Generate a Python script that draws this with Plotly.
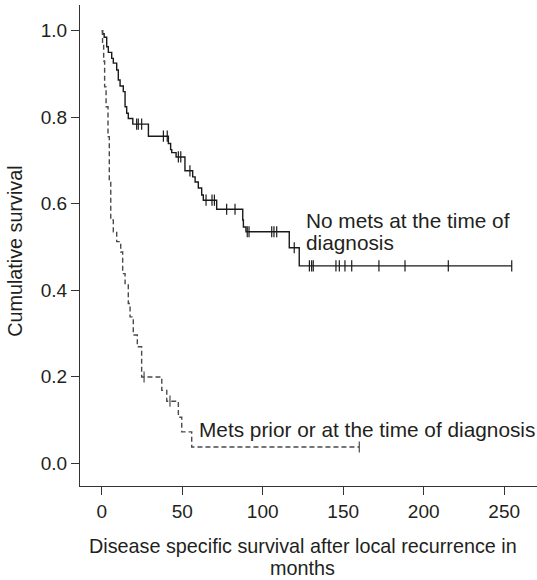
import numpy as np
import plotly.graph_objects as go

# ---- Data (months, cumulative survival) ----
# No mets at time of diagnosis: event times and survival after each drop
no_mets_times = [0.5, 1.5, 3.1, 4.1, 6.2, 7.2, 9.3, 10.3, 11.4, 13.4, 14.5, 15.5, 16.5, 19.3,
                 29.0, 41.4, 42.8, 43.5, 46.2, 51.7, 56.5, 58.0, 60.0, 62.1, 63.1, 71.4,
                 87.6, 88.0, 89.6, 116.5, 122.7]
no_mets_surv = [0.993, 0.985, 0.963, 0.950, 0.936, 0.925, 0.909, 0.886, 0.872, 0.859, 0.824, 0.809,
                0.797, 0.784, 0.756, 0.739, 0.725, 0.718, 0.708, 0.676, 0.662, 0.650, 0.636,
                0.620, 0.608, 0.587, 0.562, 0.546, 0.535, 0.498, 0.456]
no_mets_censored = [21.7, 22.7, 24.8, 38.3, 40.7, 47.6, 49.1, 54.8, 64.8, 68.5, 70.0, 77.6, 82.8,
                    90.4, 91.5, 105.6, 107.0, 108.7, 119.6, 129.0, 130.4, 131.4, 145.5, 147.6,
                    151.1, 155.3, 172.2, 188.4, 215.3, 254.7]

# Mets prior or at time of diagnosis
mets_times = [0.5, 1.2, 1.8, 2.7, 3.9, 4.7, 5.6, 7.2, 9.3, 11.8, 13.0, 14.5, 16.5, 17.6, 19.6,
              22.1, 24.8, 37.3, 40.4, 47.6, 49.7, 55.9]
mets_surv = [0.97, 0.93, 0.87, 0.824, 0.755, 0.654, 0.562, 0.535, 0.512, 0.488, 0.438, 0.415,
             0.369, 0.338, 0.296, 0.269, 0.199, 0.168, 0.143, 0.106, 0.072, 0.037]
mets_censored = [26.3, 42.4, 160.0]

x_ticks = [0, 50, 100, 150, 200, 250]
y_ticks = [0.0, 0.2, 0.4, 0.6, 0.8, 1.0]

FONT = "Liberation Sans, Arial, sans-serif"
TXT = "#231f20"


def step_xy(times, surv, end):
    x = [0.0] + list(times) + [end]
    y = [1.0] + list(surv) + [surv[-1]]
    return x, y


def surv_at(times, surv, t):
    s = 1.0
    for ti, si in zip(times, surv):
        if ti <= t:
            s = si
    return s


fig = go.Figure()

nx, ny = step_xy(no_mets_times, no_mets_surv, max(no_mets_censored))
fig.add_trace(go.Scatter(x=nx, y=ny, mode="lines", line=dict(shape="hv", color="#1a1a1a", width=1.4),
                         showlegend=False, hoverinfo="skip"))
fig.add_trace(go.Scatter(x=no_mets_censored,
                         y=[surv_at(no_mets_times, no_mets_surv, t) for t in no_mets_censored],
                         mode="markers",
                         marker=dict(symbol="line-ns", size=8, line=dict(width=1.2, color="#1a1a1a")),
                         showlegend=False, hoverinfo="skip"))

mx, my = step_xy(mets_times, mets_surv, max(mets_censored))
fig.add_trace(go.Scatter(x=mx, y=my, mode="lines",
                         line=dict(shape="hv", color="#4a4a4a", width=1.4, dash="5px,3px"),
                         showlegend=False, hoverinfo="skip"))
fig.add_trace(go.Scatter(x=mets_censored,
                         y=[surv_at(mets_times, mets_surv, t) for t in mets_censored],
                         mode="markers",
                         marker=dict(symbol="line-ns", size=8, line=dict(width=1.2, color="#4a4a4a")),
                         showlegend=False, hoverinfo="skip"))

ann_font = dict(family=FONT, size=20.8, color=TXT)
fig.add_annotation(x=125.8, y=0.562, text="No mets at the time of", showarrow=False,
                   xanchor="left", yanchor="middle", font=ann_font)
fig.add_annotation(x=125.8, y=0.509, text="diagnosis", showarrow=False,
                   xanchor="left", yanchor="middle", font=ann_font)
fig.add_annotation(x=59.4, y=0.078, text="Mets prior or at the time of diagnosis", showarrow=False,
                   xanchor="left", yanchor="middle", font=ann_font)

# axis titles
title_font = dict(family=FONT, size=19.8, color=TXT)
fig.add_annotation(xref="paper", yref="paper", x=-0.141, y=0.488, text="Cumulative survival",
                   textangle=-90, showarrow=False, xanchor="center", yanchor="middle", font=title_font)
fig.add_annotation(xref="paper", yref="paper", x=(302.7 - 80) / 457, y=-(546 - 485.7) / 480.7,
                   text="Disease specific survival after local recurrence in", showarrow=False,
                   xanchor="center", yanchor="middle", font=title_font)
fig.add_annotation(xref="paper", yref="paper", x=(302.7 - 80) / 457, y=-(568 - 485.7) / 480.7,
                   text="months", showarrow=False, xanchor="center", yanchor="middle", font=title_font)

axis_common = dict(showline=True, linecolor="#333333", linewidth=1.3, ticks="outside", ticklen=8,
                   tickwidth=1.2, tickcolor="#333333", showgrid=False, zeroline=False,
                   tickfont=dict(family=FONT, size=19, color=TXT))
fig.update_xaxes(range=[-13.5, 270.4], tickvals=x_ticks, ticktext=[str(v) for v in x_ticks], **axis_common)
fig.update_yaxes(range=[-0.0532, 1.0595], tickvals=y_ticks, ticktext=[f"{v:.1f}" for v in y_ticks],
                 **axis_common)

fig.update_layout(width=537, height=580, margin=dict(l=80, r=0, t=5, b=94.3),
                  plot_bgcolor="white", paper_bgcolor="white", font=dict(family=FONT, color=TXT))

fig.write_html("out.html", config={"displayModeBar": False},
               post_script="document.body.style.margin='0';")
